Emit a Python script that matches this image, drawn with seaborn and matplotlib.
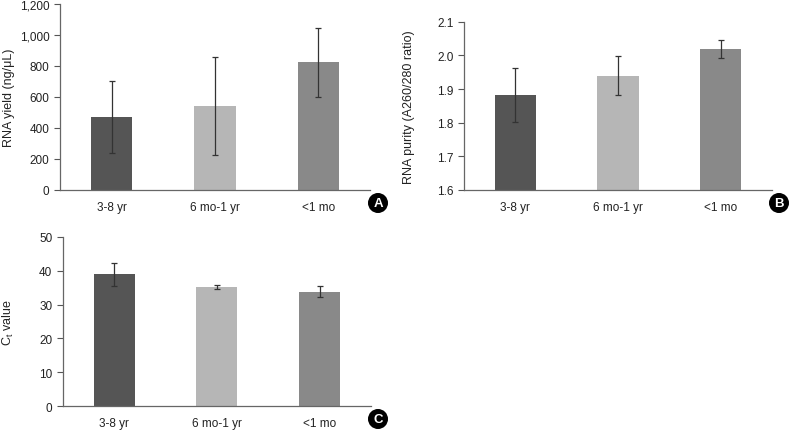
import numpy as np
import pandas as pd
import matplotlib
matplotlib.use("Agg")
import matplotlib.pyplot as plt
import seaborn as sns

groups = ["3-8 yr", "6 mo-1 yr", "<1 mo"]
bar_colors = ["#555555", "#b6b6b6", "#898989"]

yield_mean = [469, 544, 824]
yield_err = [233, 317, 224]

purity_mean = [1.883, 1.940, 2.019]
purity_err = [0.080, 0.058, 0.026]

ct_mean = [38.9, 35.15, 33.8]
ct_err = [3.4, 0.7, 1.65]

sns.set_style("white")
plt.rcParams["font.family"] = ["Liberation Sans", "DejaVu Sans"]
plt.rcParams["mathtext.fontset"] = "custom"
plt.rcParams["mathtext.rm"] = "Liberation Sans"
plt.rcParams["mathtext.it"] = "Liberation Sans"

W, H = 791, 431
fig = plt.figure(figsize=(W / 100, H / 100), dpi=100)


def px_axes(left, right, top, bottom):
    return fig.add_axes([left / W, 1 - bottom / H, (right - left) / W, (bottom - top) / H])


def panel(ax, means, errs, ylim, yticks, ylabel, label_x, fmt, letter, letter_xy):
    df = pd.DataFrame({"group": groups, "value": means})
    sns.barplot(data=df, x="group", y="value", hue="group", palette=bar_colors,
                width=0.4, legend=False, ax=ax, edgecolor="none")
    ax.errorbar(range(len(groups)), means, yerr=errs, fmt="none", ecolor="#333333",
                elinewidth=0.9, capsize=2.5, capthick=0.9)
    ax.set_xlim(-0.5, 2.5)
    ax.set_ylim(*ylim)
    ax.set_yticks(yticks)
    ax.set_yticklabels([fmt(v) for v in yticks])
    ax.set_xticks([0.5, 1.5, 2.5])
    ax.set_xticklabels([])
    ax.set_xticks([0, 1, 2], minor=True)
    ax.set_xticklabels(groups, minor=True)
    ax.tick_params(axis="x", which="major", direction="in", length=4, color="#555555", width=0.8)
    ax.tick_params(axis="x", which="minor", length=0, pad=8, labelsize=8.5, labelcolor="#222222")
    ax.tick_params(axis="y", direction="out", length=4, color="#555555", width=0.8,
                   labelsize=8.5, labelcolor="#222222", left=True)
    for s in ["top", "right"]:
        ax.spines[s].set_visible(False)
    for s in ["left", "bottom"]:
        ax.spines[s].set_color("#666666")
        ax.spines[s].set_linewidth(0.9)
    ax.set_xlabel("")
    ax.set_ylabel(ylabel, fontsize=9, color="#222222")
    ax.yaxis.set_label_coords(label_x, 0.5)
    fig.text(letter_xy[0] / W, 1 - letter_xy[1] / H, letter, ha="center", va="center",
             color="white", fontsize=9.5, fontweight="bold",
             bbox=dict(boxstyle="circle,pad=0.25", fc="black", ec="black"))


axA = px_axes(60, 370, 5, 191)
panel(axA, yield_mean, yield_err, (0, 1200), list(range(0, 1201, 200)),
      "RNA yield (ng/\u03bcL)", -0.145, lambda v: f"{v:,}", "A", (378, 204))

axB = px_axes(464, 772, 22.7, 191)
panel(axB, purity_mean, purity_err, (1.6, 2.1), [1.6, 1.7, 1.8, 1.9, 2.0, 2.1],
      "RNA purity (A260/280 ratio)", -0.159, lambda v: f"{v:.1f}", "B", (779, 204))

axC = px_axes(62.7, 371, 237.7, 407.3)
panel(axC, ct_mean, ct_err, (0, 50), list(range(0, 51, 10)),
      r"C$_\mathrm{t}$ value", -0.152, lambda v: f"{v}", "C", (378, 420))

fig.savefig("out.png", dpi=100)
